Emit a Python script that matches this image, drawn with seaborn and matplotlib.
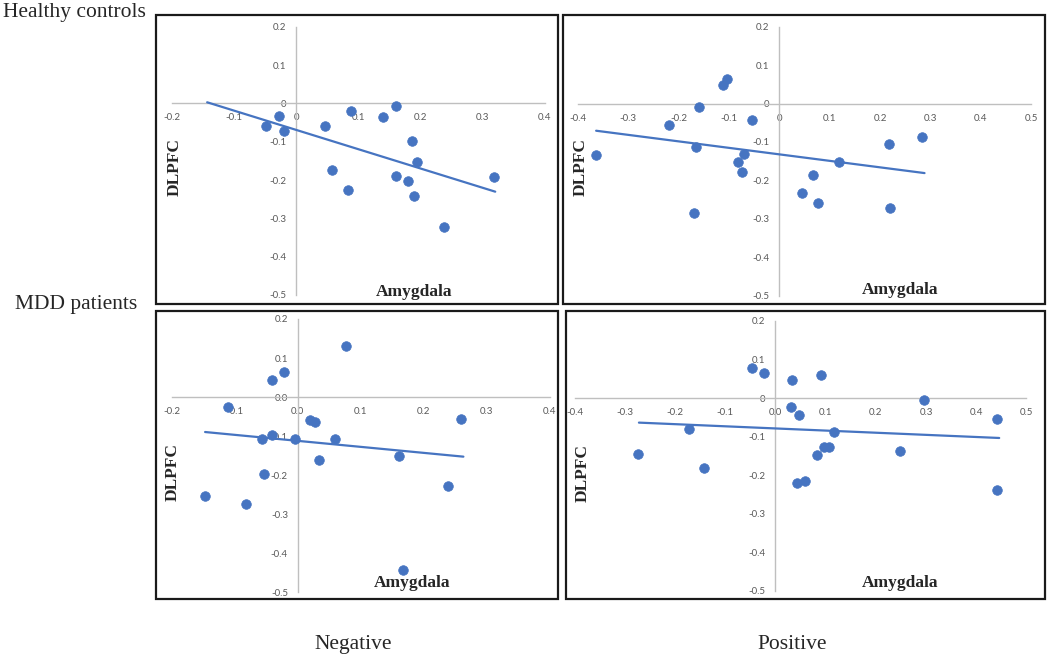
import numpy as np
import pandas as pd
import matplotlib
matplotlib.use("Agg")
import matplotlib.pyplot as plt
import seaborn as sns
from matplotlib.patches import Rectangle

# ---------------- data ----------------
hc_neg_x = [-0.048, -0.028, -0.020, 0.046, 0.057, 0.083, 0.088, 0.140, 0.161, 0.161,
            0.179, 0.186, 0.189, 0.194, 0.238, 0.318]
hc_neg_y = [-0.058, -0.034, -0.072, -0.060, -0.175, -0.226, -0.021, -0.036, -0.006, -0.190,
            -0.202, -0.097, -0.241, -0.154, -0.322, -0.193]

hc_pos_x = [-0.364, -0.220, -0.165, -0.169, -0.159, -0.113, -0.104, -0.083, -0.074, -0.071,
            -0.055, 0.044, 0.067, 0.077, 0.118, 0.217, 0.220, 0.283]
hc_pos_y = [-0.134, -0.057, -0.112, -0.285, -0.010, 0.047, 0.065, -0.153, -0.178, -0.130,
            -0.043, -0.234, -0.187, -0.260, -0.153, -0.105, -0.271, -0.087]

mdd_neg_x = [-0.147, -0.110, -0.082, -0.056, -0.054, -0.041, -0.040, -0.022, -0.004, 0.020,
             0.028, 0.034, 0.059, 0.077, 0.161, 0.167, 0.239, 0.260]
mdd_neg_y = [-0.254, -0.025, -0.273, -0.108, -0.197, 0.044, -0.097, 0.064, -0.108, -0.059,
             -0.065, -0.160, -0.107, 0.131, -0.152, -0.444, -0.227, -0.056]

mdd_pos_x = [-0.273, -0.172, -0.143, -0.047, -0.023, 0.031, 0.033, 0.044, 0.047, 0.058,
             0.082, 0.090, 0.097, 0.106, 0.116, 0.248, 0.297, 0.441, 0.441]
mdd_pos_y = [-0.144, -0.080, -0.181, 0.078, 0.064, -0.022, 0.046, -0.221, -0.044, -0.216,
             -0.148, 0.061, -0.126, -0.126, -0.087, -0.137, -0.004, -0.054, -0.239]

# trendline extents (x from, x to)
trend_hc_neg = [-0.143, 0.320]
trend_hc_pos = [-0.364, 0.288]
trend_mdd_neg = [-0.147, 0.263]
trend_mdd_pos = [-0.272, 0.446]

# axis ranges and tick labels
xlim_neg = [-0.2, 0.4]
xlim_pos = [-0.4, 0.5]
ylim_all = [-0.5, 0.2]
xticks_neg = [-0.2, -0.1, 0.0, 0.1, 0.2, 0.3, 0.4]
xticks_pos = [-0.4, -0.3, -0.2, -0.1, 0.0, 0.1, 0.2, 0.3, 0.4, 0.5]
yticks_all = [0.2, 0.1, 0.0, -0.1, -0.2, -0.3, -0.4, -0.5]

xlabels_hc_neg = ["-0.2", "-0.1", "0", "0.1", "0.2", "0.3", "0.4"]
ylabels_hc_neg = ["0.2", "0.1", "0", "-0.1", "-0.2", "-0.3", "-0.4", "-0.5"]
xlabels_hc_pos = ["-0.4", "-0.3", "-0.2", "-0.1", "0", "0.1", "0.2", "0.3", "0.4", "0.5"]
ylabels_hc_pos = ["0.2", "0.1", "0", "-0.1", "-0.2", "-0.3", "-0.4", "-0.5"]
xlabels_mdd_neg = ["-0.2", "-0.1", "0.0", "0.1", "0.2", "0.3", "0.4"]
ylabels_mdd_neg = ["0.2", "0.1", "0.0", "-0.1", "-0.2", "-0.3", "-0.4", "-0.5"]
xlabels_mdd_pos = ["-0.4", "-0.3", "-0.2", "-0.1", "0.0", "0.1", "0.2", "0.3", "0.4", "0.5"]
ylabels_mdd_pos = ["0.2", "0.1", "0", "-0.1", "-0.2", "-0.3", "-0.4", "-0.5"]

row_labels = ["Healthy controls", "MDD patients"]
col_labels = ["Negative", "Positive"]
x_title = "Amygdala"
y_title = "DLPFC"

# ---------------- layout ----------------
W, H = 1050, 657
sns.set_theme(style="white")
plt.rcParams['font.family'] = ['Liberation Serif', 'DejaVu Serif']
fig = plt.figure(figsize=(W / 100, H / 100), dpi=100)

BLUE = "#4674C1"
GRAY_AX = "#BFBFBF"
TICK_C = "#595959"


def fbox(x0, y0, x1, y1):
    return [x0 / W, 1 - y1 / H, (x1 - x0) / W, (y1 - y0) / H]


panels = [
    dict(frame=(156, 15, 558, 304), plot=(171.7, 26.7, 545.0, 295.0),
         x=hc_neg_x, y=hc_neg_y, trend=trend_hc_neg, xlim=xlim_neg, xt=xticks_neg,
         xl=xlabels_hc_neg, yl=ylabels_hc_neg, ytit=(175, 167), xtit=(414, 292)),
    dict(frame=(563, 15, 1045, 304), plot=(578.0, 26.7, 1031.3, 295.7),
         x=hc_pos_x, y=hc_pos_y, trend=trend_hc_pos, xlim=xlim_pos, xt=xticks_pos,
         xl=xlabels_hc_pos, yl=ylabels_hc_pos, ytit=(581, 167), xtit=(900, 290)),
    dict(frame=(156, 311, 558, 599), plot=(171.7, 319.0, 549.7, 592.3),
         x=mdd_neg_x, y=mdd_neg_y, trend=trend_mdd_neg, xlim=xlim_neg, xt=xticks_neg,
         xl=xlabels_mdd_neg, yl=ylabels_mdd_neg, ytit=(173, 472), xtit=(412, 583)),
    dict(frame=(566, 311, 1045, 599), plot=(574.7, 321.0, 1026.3, 590.7),
         x=mdd_pos_x, y=mdd_pos_y, trend=trend_mdd_pos, xlim=xlim_pos, xt=xticks_pos,
         xl=xlabels_mdd_pos, yl=ylabels_mdd_pos, ytit=(583, 473), xtit=(900, 583)),
]

for p in panels:
    # frame
    x0, y0, x1, y1 = p["frame"]
    fig.patches.append(Rectangle((x0 / W, 1 - y1 / H), (x1 - x0) / W, (y1 - y0) / H,
                                 transform=fig.transFigure, fill=False,
                                 edgecolor="#1a1a1a", linewidth=1.6, zorder=0))
    ax = fig.add_axes(fbox(*p["plot"]))
    ax.patch.set_alpha(0)
    df = pd.DataFrame({"x": p["x"], "y": p["y"]})
    # trend line (least squares)
    slope, inter = np.polyfit(df["x"], df["y"], 1)
    tx = np.array(p["trend"])
    sns.lineplot(x=tx, y=slope * tx + inter, ax=ax, color=BLUE, linewidth=1.6, zorder=3)
    sns.scatterplot(data=df, x="x", y="y", ax=ax, color=BLUE, s=48, edgecolor=BLUE,
                    linewidth=0.5, zorder=4)
    ax.set_xlim(*p["xlim"])
    ax.set_ylim(*ylim_all)
    ax.set_xticks(p["xt"])
    ax.set_xticklabels(p["xl"])
    ax.set_yticks(yticks_all)
    ax.set_yticklabels(p["yl"])
    for s in ["top", "right"]:
        ax.spines[s].set_visible(False)
    ax.spines["left"].set_position(("data", 0))
    ax.spines["bottom"].set_position(("data", 0))
    for s in ["left", "bottom"]:
        ax.spines[s].set_color(GRAY_AX)
        ax.spines[s].set_linewidth(1.0)
        ax.spines[s].set_zorder(1)
    ax.tick_params(axis="both", length=0, labelsize=7, labelcolor=TICK_C)
    ax.tick_params(axis="x", pad=7.3)
    ax.tick_params(axis="y", pad=7)
    for lab in ax.get_xticklabels() + ax.get_yticklabels():
        lab.set_family(["Lato", "DejaVu Sans"])
    ax.set_xlabel("")
    ax.set_ylabel("")
    ax.grid(False)
    # axis titles
    fig.text(p["ytit"][0] / W, 1 - p["ytit"][1] / H, y_title, rotation=90,
             ha="center", va="center", fontsize=12.5, fontweight="bold")
    fig.text(p["xtit"][0] / W, 1 - p["xtit"][1] / H, x_title,
             ha="center", va="center", fontsize=12.5, fontweight="bold")

# row / column labels
fig.text(3 / W, 1 - 17 / H, row_labels[0], ha="left", va="baseline", fontsize=15.5)
fig.text(15 / W, 1 - 309 / H, row_labels[1], ha="left", va="baseline", fontsize=15.5)
fig.text(353 / W, 1 - 649 / H, col_labels[0], ha="center", va="baseline", fontsize=15.5)
fig.text(792 / W, 1 - 649 / H, col_labels[1], ha="center", va="baseline", fontsize=15.5)

fig.savefig("out.png", dpi=100)
